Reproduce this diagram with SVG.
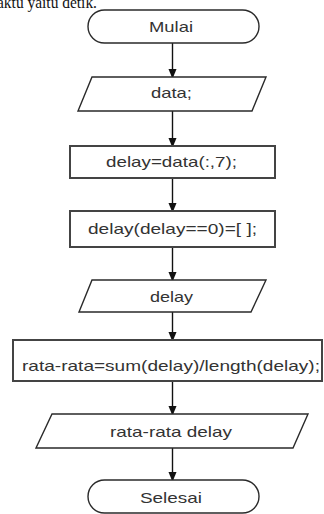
<svg xmlns="http://www.w3.org/2000/svg" width="324" height="514" viewBox="0 0 324 514">
<style>
.shape{fill:#fff;stroke:#2a2a2a;stroke-width:1.4}
.box{fill:#fff;stroke:#444;stroke-width:2}
.lbl{font-family:"Liberation Sans",Arial,sans-serif;font-size:15px;fill:#333;text-anchor:middle}
.conn{stroke:#111;stroke-width:1.4;fill:none}
</style>
<defs>
<marker id="ah" markerWidth="10" markerHeight="12" refX="10" refY="5" orient="auto" markerUnits="userSpaceOnUse" viewBox="0 0 12 10">
<path d="M0,0 L12,5 L0,10 Z" fill="#111"/>
</marker>
</defs>
<rect width="324" height="514" fill="#fff"/>
<text x="97" y="7.5" font-family="'Liberation Serif','Times New Roman',serif" font-size="17" text-anchor="end" fill="#111" textLength="100" lengthAdjust="spacingAndGlyphs">aktu yaitu detik.</text>
<g id="connectors">
<line class="conn" x1="172.5" y1="43" x2="172.5" y2="77" marker-end="url(#ah)"/>
<line class="conn" x1="172.5" y1="111" x2="172.5" y2="146" marker-end="url(#ah)"/>
<line class="conn" x1="172.5" y1="178" x2="172.5" y2="211" marker-end="url(#ah)"/>
<line class="conn" x1="172.5" y1="247" x2="172.5" y2="280" marker-end="url(#ah)"/>
<line class="conn" x1="172.5" y1="312" x2="172.5" y2="340" marker-end="url(#ah)"/>
<line class="conn" x1="172.5" y1="381" x2="172.5" y2="414" marker-end="url(#ah)"/>
<line class="conn" x1="172.5" y1="448" x2="172.5" y2="480" marker-end="url(#ah)"/>
</g>
<g id="mulai">
<rect class="shape" x="88" y="10" width="171" height="33" rx="16.5"/>
<text class="lbl" x="171" y="32" textLength="44" lengthAdjust="spacingAndGlyphs">Mulai</text>
</g>
<g id="data">
<polygon class="shape" points="92,77 266,77 252,111 78,111"/>
<text class="lbl" x="171.5" y="98" textLength="41" lengthAdjust="spacingAndGlyphs">data;</text>
</g>
<g id="assign">
<rect class="box" x="70" y="146" width="205" height="32"/>
<text class="lbl" x="171.5" y="167" textLength="131" lengthAdjust="spacingAndGlyphs">delay=data(:,7);</text>
</g>
<g id="filter">
<rect class="box" x="70" y="211" width="205" height="36"/>
<text class="lbl" x="172.5" y="234" textLength="169" lengthAdjust="spacingAndGlyphs">delay(delay==0)=[ ];</text>
</g>
<g id="delay">
<polygon class="shape" points="92,280 266,280 251,312 79,312"/>
<text class="lbl" x="171.5" y="302" textLength="43" lengthAdjust="spacingAndGlyphs">delay</text>
</g>
<g id="mean">
<rect class="box" x="13" y="340" width="309" height="41"/>
<text class="lbl" x="171" y="371" textLength="298" lengthAdjust="spacingAndGlyphs">rata-rata=sum(delay)/length(delay);</text>
</g>
<g id="output">
<polygon class="shape" points="52,414 308,414 293,448 36,448"/>
<text class="lbl" x="171" y="437" textLength="122" lengthAdjust="spacingAndGlyphs">rata-rata delay</text>
</g>
<g id="selesai">
<rect class="shape" x="88" y="480" width="171" height="33" rx="16.5"/>
<text class="lbl" x="171" y="503" textLength="62" lengthAdjust="spacingAndGlyphs">Selesai</text>
</g>
</svg>
